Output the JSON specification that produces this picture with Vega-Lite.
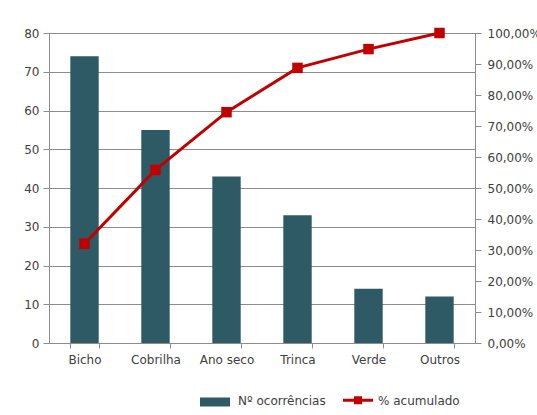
{
  "$schema": "https://vega.github.io/schema/vega-lite/v6.json",
  "width": 426,
  "height": 310,
  "autosize": {"type": "none"},
  "padding": {"left": 49, "top": 33, "right": 62, "bottom": 72},
  "config": {
    "locale": {"number": {"decimal": ",", "thousands": ".", "grouping": [3], "currency": ["", ""]}},
    "view": {"stroke": null},
    "font": "DejaVu Sans",
    "axis": {
      "labelFont": "DejaVu Sans",
      "labelFontSize": 12,
      "labelColor": "#404040",
      "domainColor": "#8c8c8c",
      "tickColor": "#8c8c8c",
      "gridColor": "#8c8c8c",
      "title": null
    }
  },
  "data": {
    "values": [
      {"cat": "Bicho", "n": 74, "pct": 0.3203},
      {"cat": "Cobrilha", "n": 55, "pct": 0.5584},
      {"cat": "Ano seco", "n": 43, "pct": 0.7446},
      {"cat": "Trinca", "n": 33, "pct": 0.8874},
      {"cat": "Verde", "n": 14, "pct": 0.9481},
      {"cat": "Outros", "n": 12, "pct": 1.0}
    ]
  },
  "encoding": {
    "x": {
      "field": "cat",
      "type": "nominal",
      "sort": null,
      "scale": {"paddingInner": 0.6, "paddingOuter": 0.3},
      "axis": {"labelAngle": 0, "tickBand": "extent", "tickSize": 5, "labelPadding": 6, "grid": false}
    }
  },
  "layer": [
    {
      "mark": {"type": "bar"},
      "encoding": {
        "y": {
          "field": "n",
          "type": "quantitative",
          "scale": {"domain": [0, 80], "nice": false},
          "axis": {"values": [0, 10, 20, 30, 40, 50, 60, 70, 80], "grid": true, "tickSize": 6, "labelPadding": 4}
        },
        "color": {
          "datum": "Nº ocorrências",
          "type": "nominal",
          "scale": {"domain": ["Nº ocorrências", "% acumulado"], "range": ["#2E5A66", "#C00000"]},
          "legend": {
            "title": null,
            "orient": "none",
            "direction": "horizontal",
            "legendX": 160,
            "legendY": 361,
            "symbolType": "M-1,-0.3H1V0.3H-1Z",
            "symbolSize": 900,
            "symbolStrokeWidth": 0,
            "labelFont": "DejaVu Sans",
            "labelFontSize": 12,
            "labelColor": "#404040",
            "labelBaseline": "middle",
            "labelOffset": 17,
            "columnPadding": 11,
            "encode": {
              "symbols": {
                "update": {
                  "shape": {"signal": "datum.value === '% acumulado' ? 'M-1,0H1M-0.17,-0.17H0.17V0.17H-0.17Z' : 'M-1,-0.3H1V0.3H-1Z'"},
                  "stroke": {"signal": "datum.value === '% acumulado' ? '#C00000' : null"},
                  "strokeWidth": {"signal": "datum.value === '% acumulado' ? 3 : 0"},
                  "fill": {"signal": "datum.value === '% acumulado' ? '#C00000' : '#2E5A66'"}
                }
              },
              "labels": {
                "update": {
                  "dx": {"signal": "datum.value === '% acumulado' ? -3 : 0"},
                  "dy": {"signal": "datum.value === '% acumulado' ? 1 : -1"}
                }
              }
            }
          }
        }
      }
    },
    {
      "mark": {"type": "line", "strokeWidth": 3, "point": {"shape": "square", "size": 110, "filled": true}},
      "encoding": {
        "y": {
          "field": "pct",
          "type": "quantitative",
          "scale": {"domain": [0, 1], "nice": false},
          "axis": {"orient": "right", "format": ".2%", "values": [0, 0.1, 0.2, 0.3, 0.4, 0.5, 0.6, 0.7, 0.8, 0.9, 1.0], "grid": false, "tickSize": 6, "labelPadding": 6}
        },
        "color": {"datum": "% acumulado", "type": "nominal"}
      }
    }
  ],
  "resolve": {"scale": {"y": "independent"}}
}
